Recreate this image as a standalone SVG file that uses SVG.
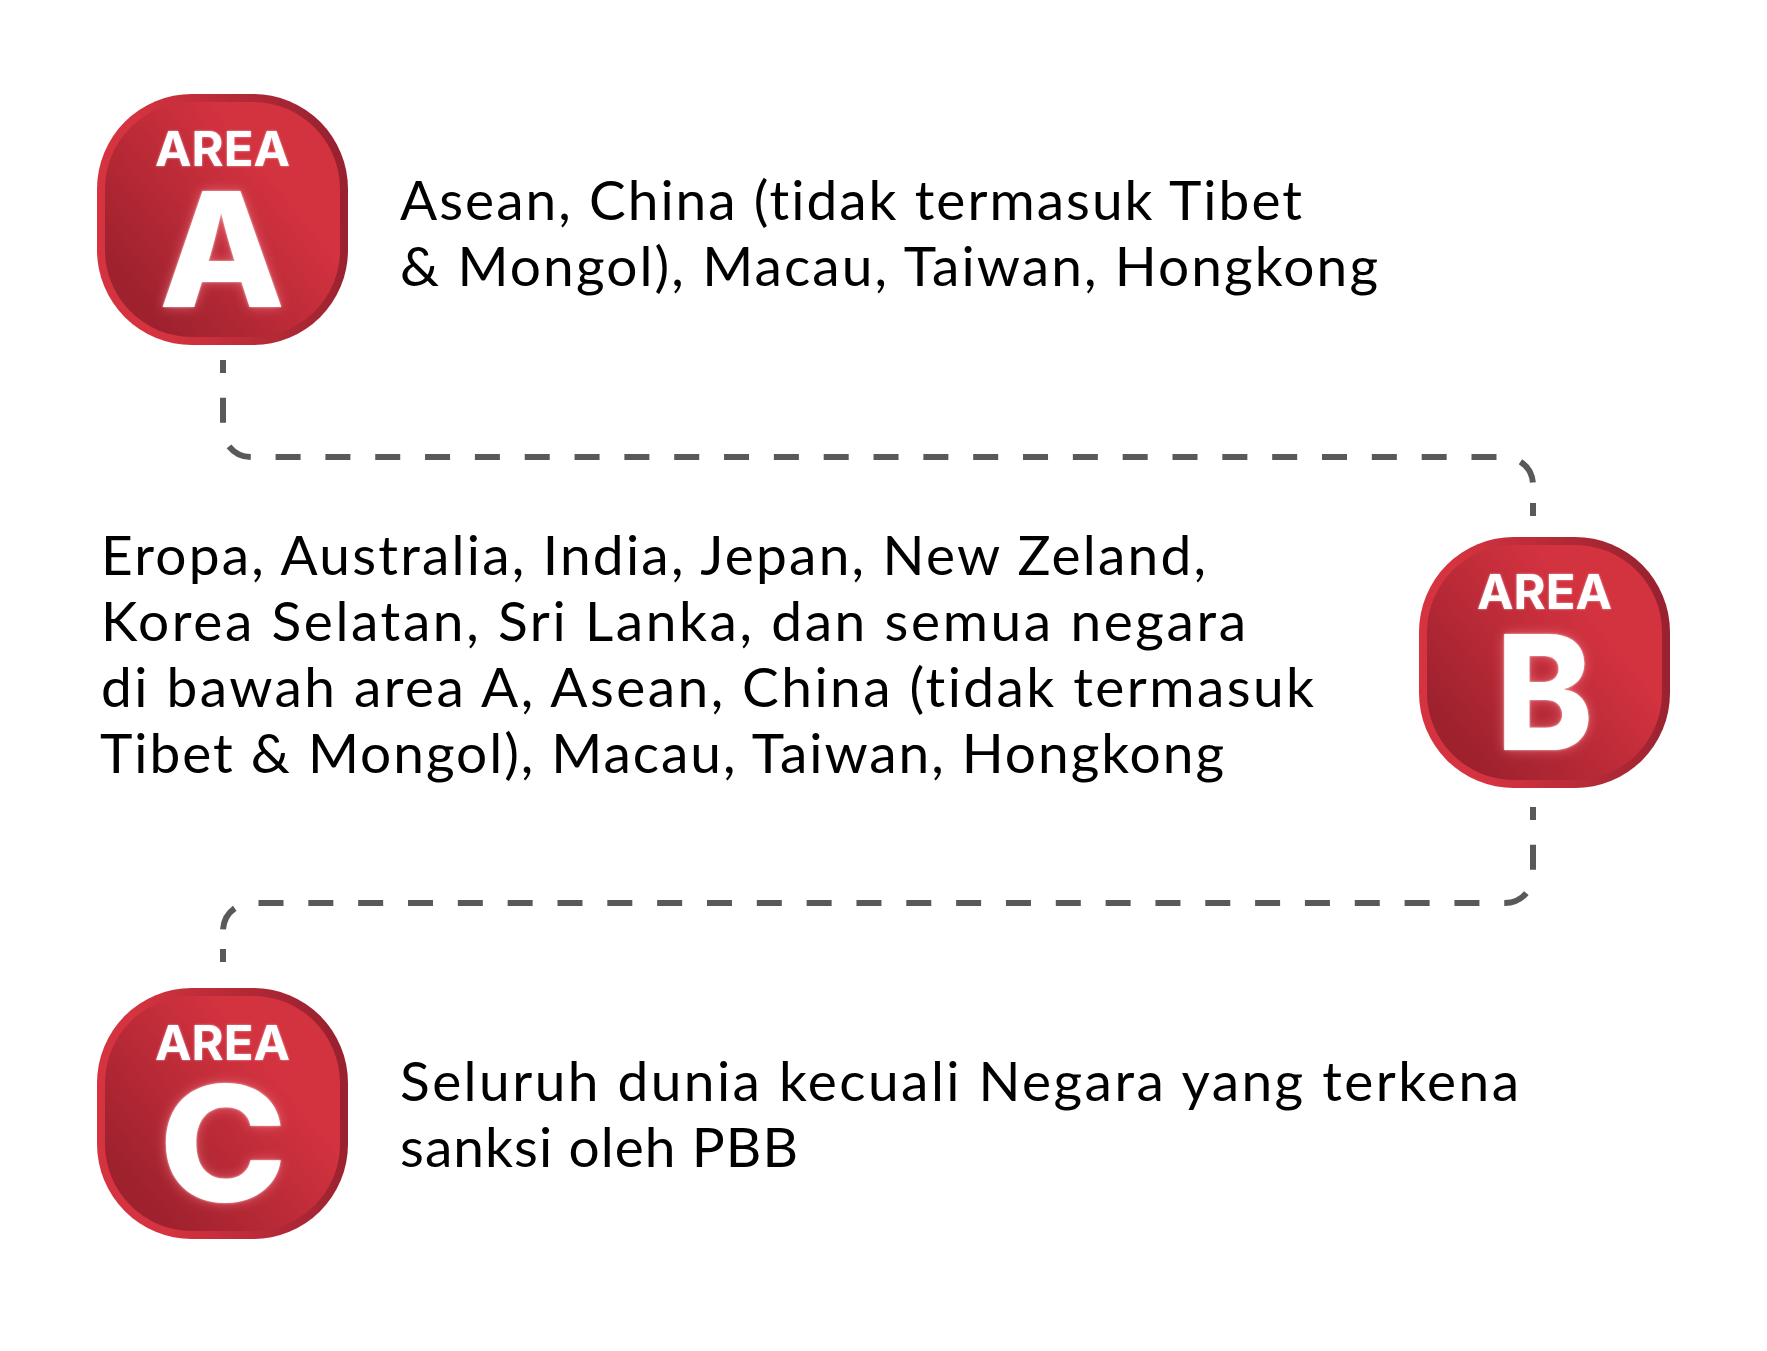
<svg xmlns="http://www.w3.org/2000/svg" width="1767" height="1351" viewBox="0 0 1767 1351">
<defs>
<linearGradient id="ring" x1="0" y1="0.5" x2="1" y2="0.35"><stop offset="0.2" stop-color="#d5333f"/><stop offset="0.95" stop-color="#9a2230"/></linearGradient>
<linearGradient id="face" x1="0.05" y1="0.9" x2="0.85" y2="0.25"><stop offset="0.1" stop-color="#9e212e"/><stop offset="0.85" stop-color="#d3323f"/></linearGradient>
<filter id="glowBig" x="-40%" y="-40%" width="180%" height="180%"><feGaussianBlur in="SourceAlpha" stdDeviation="6" result="b"/><feFlood flood-color="#ff8a96" flood-opacity="0.6"/><feComposite in2="b" operator="in" result="g"/><feGaussianBlur in="SourceAlpha" stdDeviation="1.2" result="b2"/><feFlood flood-color="#ffffff" flood-opacity="0.6"/><feComposite in2="b2" operator="in" result="g2"/><feMerge><feMergeNode in="g"/><feMergeNode in="g2"/><feMergeNode in="SourceGraphic"/></feMerge></filter>
<filter id="glowSmall" x="-20%" y="-40%" width="140%" height="180%"><feGaussianBlur in="SourceAlpha" stdDeviation="1.2" result="b"/><feFlood flood-color="#ffffff" flood-opacity="0.55"/><feComposite in2="b" operator="in" result="g"/><feMerge><feMergeNode in="g"/><feMergeNode in="SourceGraphic"/></feMerge></filter>
</defs>
<style>
.ring{fill:url(#ring)}
.face{fill:url(#face)}
.area{font:700 48px "Inter","Liberation Sans",sans-serif;fill:#fff;filter:url(#glowSmall)}
.big{font:800 160px "Inter","Liberation Sans",sans-serif;fill:#fff;filter:url(#glowBig)}
.body{font:400 55px "Lato","Liberation Sans",sans-serif;fill:#000;font-variant-ligatures:none}
.dash{fill:none;stroke:#58595b;stroke-width:6;stroke-dasharray:25 24.83;stroke-dashoffset:12}
</style>
<rect width="1767" height="1351" fill="#fff"/>
<g id="connectors">
<path class="dash" d="M223 360V429A28 28 0 0 0 251 457H1505A28 28 0 0 1 1533 485M1533 503V516"/>
<path class="dash" d="M1533 807V875A28 28 0 0 1 1505 903H251A28 28 0 0 0 223 931M223 949V962"/>
</g>
<g id="node-a">
<rect class="ring" x="97" y="94" width="251" height="251" rx="95"/>
<rect class="face" x="105" y="102" width="235" height="235" rx="87"/>
<text class="area" x="155" y="166" textLength="135" lengthAdjust="spacingAndGlyphs">AREA</text>
<text class="big" x="159" y="307" textLength="126" lengthAdjust="spacingAndGlyphs">A</text>
</g>
<g id="text-a">
<text class="body" x="400" y="220" textLength="902" lengthAdjust="spacing">Asean, China (tidak termasuk Tibet</text>
<text class="body" x="400" y="286" textLength="978" lengthAdjust="spacing">&amp; Mongol), Macau, Taiwan, Hongkong</text>
</g>
<g id="node-b">
<rect class="ring" x="1419" y="537" width="251" height="251" rx="95"/>
<rect class="face" x="1427" y="545" width="235" height="235" rx="87"/>
<text class="area" x="1477" y="609" textLength="135" lengthAdjust="spacingAndGlyphs">AREA</text>
<text class="big" x="1496" y="750" textLength="97" lengthAdjust="spacingAndGlyphs">B</text>
</g>
<g id="text-b">
<text class="body" x="101" y="575" textLength="1105" lengthAdjust="spacing">Eropa, Australia, India, Jepan, New Zeland,</text>
<text class="body" x="101" y="641" textLength="1145" lengthAdjust="spacing">Korea Selatan, Sri Lanka, dan semua negara</text>
<text class="body" x="101" y="707" textLength="1213" lengthAdjust="spacing">di bawah area A, Asean, China (tidak termasuk</text>
<text class="body" x="100" y="773" textLength="1124" lengthAdjust="spacing">Tibet &amp; Mongol), Macau, Taiwan, Hongkong</text>
</g>
<g id="node-c">
<rect class="ring" x="97" y="988" width="251" height="251" rx="95"/>
<rect class="face" x="105" y="996" width="235" height="235" rx="87"/>
<text class="area" x="155" y="1060" textLength="135" lengthAdjust="spacingAndGlyphs">AREA</text>
<text class="big" x="159" y="1201" textLength="128" lengthAdjust="spacingAndGlyphs">C</text>
</g>
<g id="text-c">
<text class="body" x="400" y="1101" textLength="1119" lengthAdjust="spacing">Seluruh dunia kecuali Negara yang terkena</text>
<text class="body" x="400" y="1167" textLength="398" lengthAdjust="spacing">sanksi oleh PBB</text>
</g>
</svg>
